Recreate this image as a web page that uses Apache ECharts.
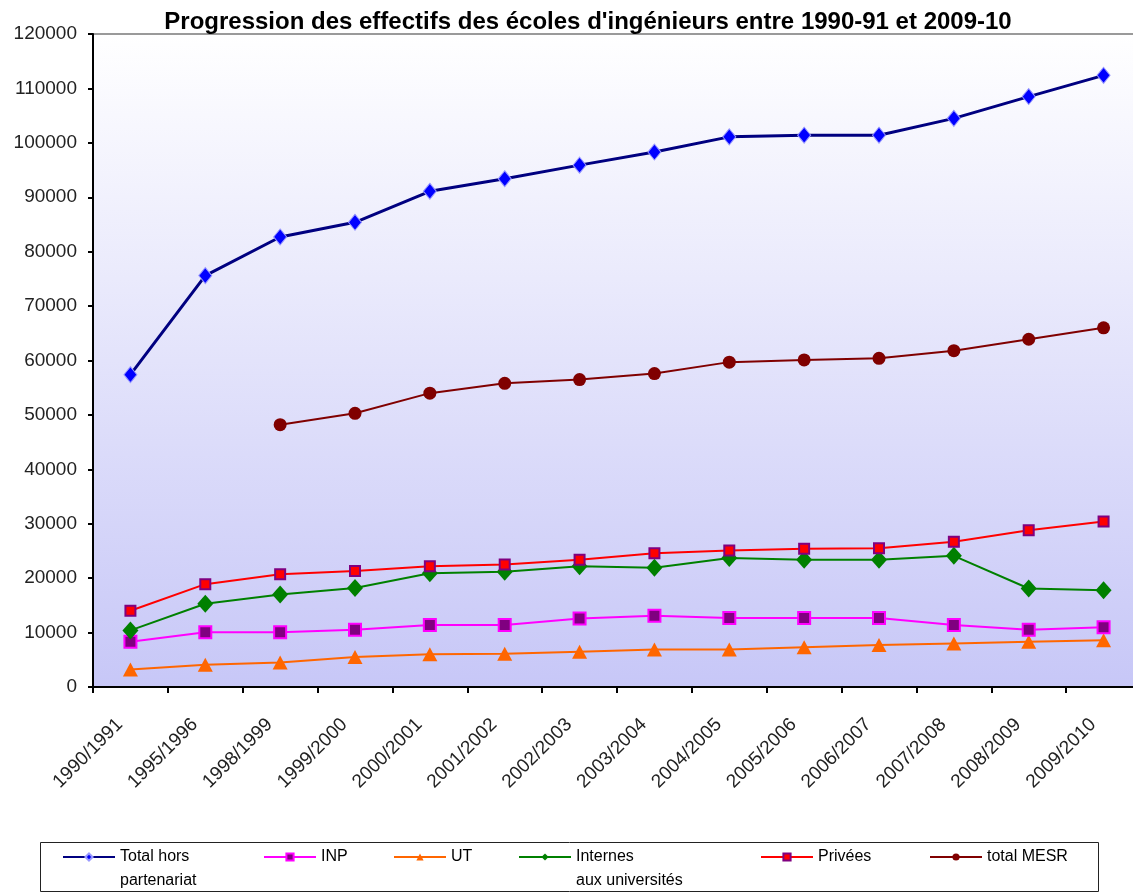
<!DOCTYPE html>
<html>
<head>
<meta charset="utf-8">
<script src="https://cdn.jsdelivr.net/npm/echarts@6/dist/echarts.min.js"></script>
<style>
html,body{margin:0;padding:0;background:#fff;overflow:hidden;}
#chart{width:1145px;height:894px;}
</style>
</head>
<body>
<div id="chart"></div>
<script>
var categories = ['1990/1991','1995/1996','1998/1999','1999/2000','2000/2001','2001/2002','2002/2003','2003/2004','2004/2005','2005/2006','2006/2007','2007/2008','2008/2009','2009/2010'];
var totalHorsPartenariat = [57400, 75600, 82700, 85400, 91100, 93400, 95900, 98300, 101100, 101400, 101400, 104500, 108500, 112400];
var inp = [8300, 10050, 10050, 10500, 11400, 11400, 12600, 13100, 12700, 12700, 12700, 11400, 10500, 11000];
var ut = [3200, 4100, 4500, 5500, 6000, 6100, 6500, 6900, 6900, 7300, 7700, 8000, 8300, 8600];
var internes = [10400, 15300, 17000, 18200, 20900, 21200, 22200, 21900, 23700, 23400, 23400, 24100, 18100, 17800];
var privees = [14000, 18900, 20700, 21300, 22200, 22500, 23400, 24600, 25100, 25400, 25500, 26700, 28800, 30400];
var totalMESR = [null, null, 48200, 50300, 54000, 55800, 56500, 57600, 59700, 60100, 60400, 61800, 63900, 66000];
var seriesNames = ['Total hors partenariat', 'INP', 'UT', 'Internes aux universités', 'Privées', 'total MESR'];
var legendLabels = ['Total hors\npartenariat', 'INP', 'UT', 'Internes\naux universités', 'Privées', 'total MESR'];
var yTicks = {min: 0, max: 120000, interval: 10000};

var chart = echarts.init(document.getElementById('chart'));
var FONT = '"Liberation Sans", Arial, sans-serif';

function legendFor(idx, left) {
  var label = legendLabels[idx];
  var twoLines = label.indexOf('\n') >= 0;
  return {
    data: [seriesNames[idx]],
    left: left,
    top: twoLines ? 821 : 845,
    orient: 'horizontal',
    itemWidth: 52,
    itemHeight: 9,
    itemGap: 0,
    padding: 0,
    formatter: function () {
      return twoLines ? '\u00a0\n' + label : label;
    },
    textStyle: {fontFamily: FONT, fontSize: 16, color: '#000', lineHeight: 24}
  };
}

var option = {
  animation: false,
  backgroundColor: '#fff',
  title: {
    text: "Progression des effectifs des écoles d'ingénieurs entre 1990-91 et 2009-10",
    left: 583,
    textAlign: 'center',
    top: 5,
    textStyle: {fontFamily: FONT, fontSize: 24, fontWeight: 'bold', color: '#000'}
  },
  graphic: [{
    type: 'rect',
    shape: {x: 40.5, y: 842.5, width: 1058, height: 49},
    style: {fill: 'none', stroke: '#222', lineWidth: 1},
    z: -1
  }],
  legend: [
    legendFor(0, 62),
    legendFor(1, 263),
    legendFor(2, 393),
    legendFor(3, 518),
    legendFor(4, 760),
    legendFor(5, 929)
  ],
  grid: {
    left: 93, top: 34, right: 4, bottom: 207,
    show: true,
    borderWidth: 2,
    borderColor: '#9a9a9a',
    backgroundColor: new echarts.graphic.LinearGradient(0, 0, 0, 1, [
      {offset: 0, color: '#ffffff'},
      {offset: 1, color: '#c7c7f7'}
    ])
  },
  xAxis: {
    type: 'category',
    data: categories,
    boundaryGap: true,
    axisLine: {lineStyle: {color: '#000', width: 2}},
    axisTick: {show: true, length: 6, lineStyle: {color: '#000', width: 2}},
    axisLabel: {rotate: 45, fontFamily: FONT, fontSize: 19, color: '#222', margin: 24,
      padding: [0, 15, 0, 0], interval: 0},
    splitLine: {show: false}
  },
  yAxis: {
    type: 'value',
    min: yTicks.min, max: yTicks.max, interval: yTicks.interval,
    axisLine: {show: true, lineStyle: {color: '#000', width: 2}},
    axisTick: {show: true, length: 5, lineStyle: {color: '#000', width: 2}},
    axisLabel: {fontFamily: FONT, fontSize: 19, color: '#222', margin: 16,
      formatter: function (v) { return String(v); }},
    splitLine: {show: false}
  },
  series: [
    {name: seriesNames[0], type: 'line', data: totalHorsPartenariat,
     lineStyle: {color: '#000080', width: 3}, itemStyle: {color: '#0000ff', borderColor: '#9999ff', borderWidth: 1},
     symbol: 'diamond', symbolSize: [13, 16], z: 7},
    {name: seriesNames[1], type: 'line', data: inp,
     lineStyle: {color: '#ff00ff', width: 2}, itemStyle: {color: '#800080', borderColor: '#ff00ff', borderWidth: 2},
     symbol: 'rect', symbolSize: 12, z: 3},
    {name: seriesNames[2], type: 'line', data: ut,
     lineStyle: {color: '#ff6600', width: 2}, itemStyle: {color: '#ff6600'},
     symbol: 'triangle', symbolSize: [15, 14], z: 2},
    {name: seriesNames[3], type: 'line', data: internes,
     lineStyle: {color: '#008000', width: 2}, itemStyle: {color: '#008000'},
     symbol: 'diamond', symbolSize: [16, 18], z: 4},
    {name: seriesNames[4], type: 'line', data: privees,
     lineStyle: {color: '#ff0000', width: 2}, itemStyle: {color: '#ff0000', borderColor: '#800080', borderWidth: 2},
     symbol: 'rect', symbolSize: 10, z: 5},
    {name: seriesNames[5], type: 'line', data: totalMESR, connectNulls: false,
     lineStyle: {color: '#800000', width: 2}, itemStyle: {color: '#800000'},
     symbol: 'circle', symbolSize: 13, z: 6}
  ]
};
chart.setOption(option);
</script>
</body>
</html>
